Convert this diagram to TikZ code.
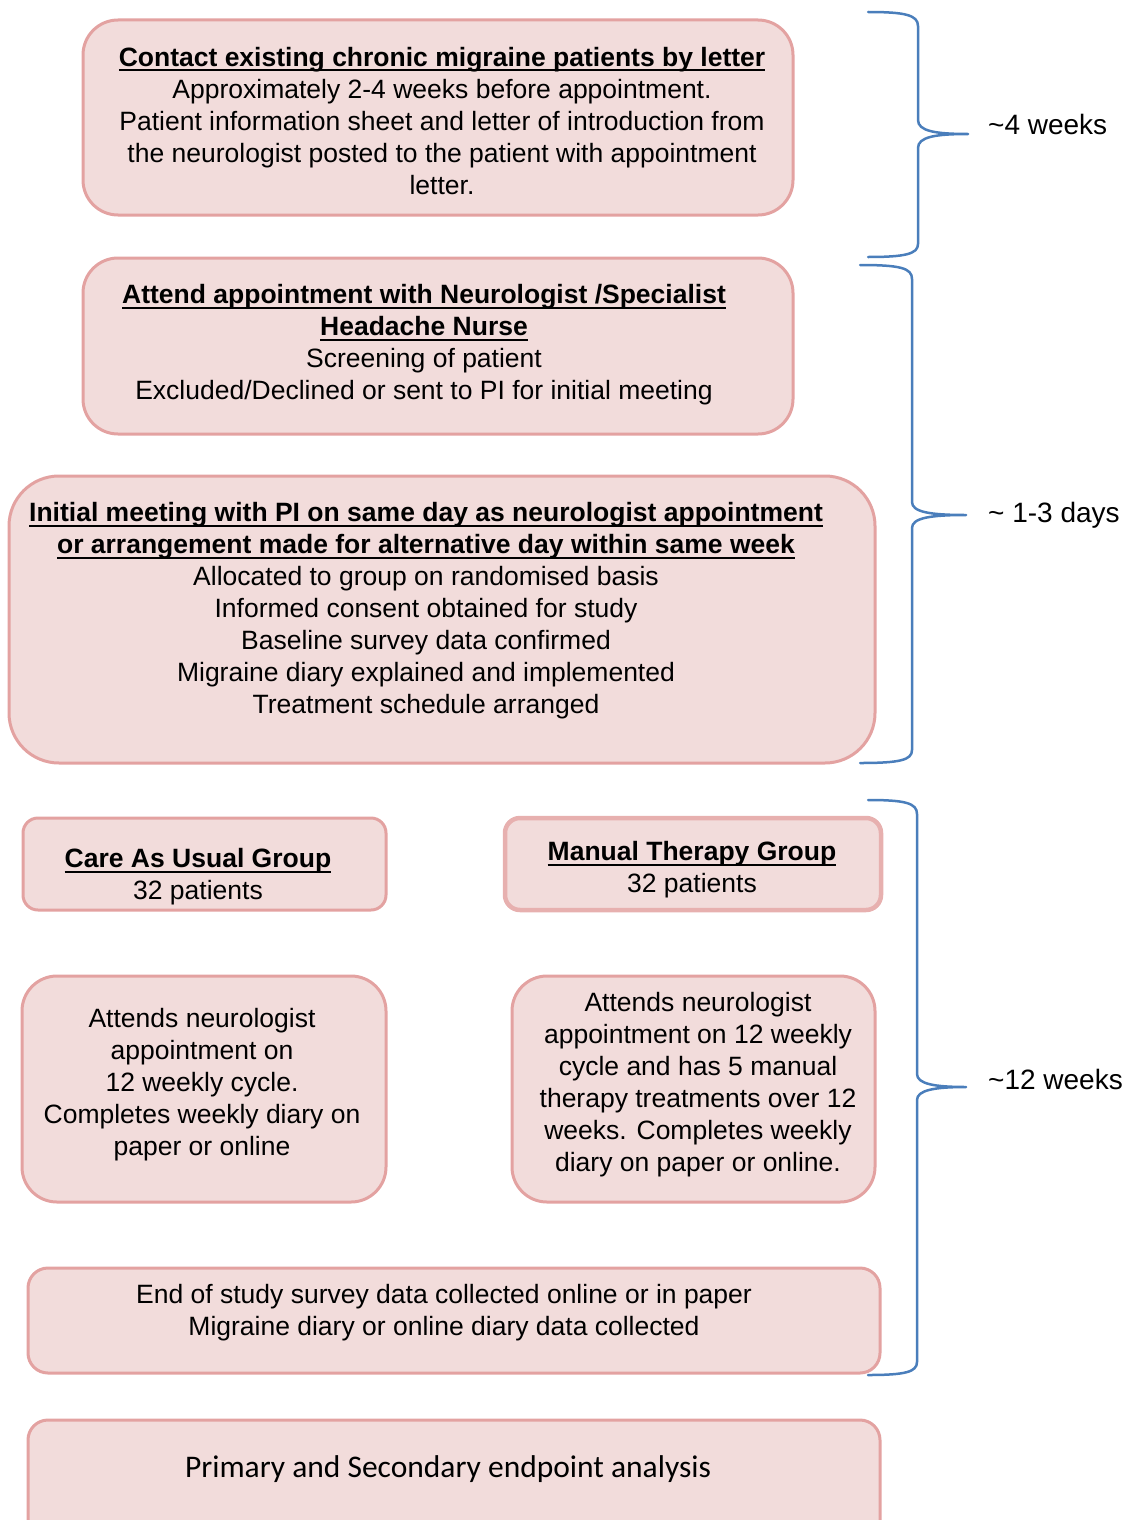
\documentclass[tikz,border=0pt]{standalone}
\usepackage{fontspec}
\setmainfont{Liberation Sans}
\newfontfamily\calib{Carlito}
\definecolor{boxfill}{HTML}{F2DCDB}
\definecolor{boxline}{HTML}{E3A2A1}
\definecolor{bracecol}{HTML}{4A7EBB}
% bold heading with a heavier underline
\newcommand{\ulhead}[1]{\setbox0\hbox{\bfseries #1}\leavevmode\rlap{\copy0}\raisebox{-5pt}{\rule{\wd0}{2pt}}}
\tikzset{
  stage/.style={draw=boxline, line width=3pt, fill=boxfill, rounded corners=#1, inner sep=0pt},
  stage/.default=30pt,
  txt/.style={align=center, inner sep=0pt, font=\fontsize{26.5}{32}\selectfont},
  span/.style={font=\fontsize{28}{32}\selectfont, anchor=west, inner sep=0pt},
  brace/.style={draw=bracecol, line width=2.5pt, line cap=round, line join=round}
}
\begin{document}
\begin{tikzpicture}[x=1pt,y=-1pt]
\useasboundingbox (0,0) rectangle (1139,1520);

% stage boxes
\path[stage=35pt] (83,20) rectangle (793,215);
\node[txt] (t1) at (442,121) {\ulhead{Contact existing chronic migraine patients by letter}\\
Approximately 2-4 weeks before appointment.\\
Patient information sheet and letter of introduction from\\
the neurologist posted to the patient with appointment\\
letter.};

\path[stage=35pt] (83,258) rectangle (793,434);
\node[txt] (t2) at (424,345) {\ulhead{Attend appointment with Neurologist /Specialist}\\
\ulhead{Headache Nurse}\\
Screening of patient\\
Excluded/Declined or sent to PI for initial meeting};

\path[stage=50pt] (9,476) rectangle (875,763);
\node[txt] (t3) at (426,611) {\ulhead{Initial meeting with PI on same day as neurologist appointment}\\
\ulhead{or arrangement made for alternative day within same week}\\
Allocated to group on randomised basis\\
Informed consent obtained for study\\
Baseline survey data confirmed\\
Migraine diary explained and implemented\\
Treatment schedule arranged};

\path[stage=15pt] (23,818) rectangle (386,910);
\node[txt] (t4) at (198,877) {\ulhead{Care As Usual Group}\\32 patients};

\path[stage=15pt, line width=4.5pt, draw=boxline!85] (505,818) rectangle (881,910);
\node[txt] (t5) at (692,870) {\ulhead{Manual Therapy Group}\\32 patients};

\path[stage=35pt] (22,976) rectangle (386,1202);
\node[txt] (t6) at (202,1085) {Attends neurologist\\appointment on\\12 weekly cycle.\\Completes weekly diary on\\paper or online};

\path[stage=35pt] (512,976) rectangle (875,1202);
\node[txt] (t7) at (698,1085) {Attends neurologist\\appointment on 12 weekly\\cycle and has 5 manual\\therapy treatments over 12\\weeks. Completes weekly\\diary on paper or online.};

\path[stage=20pt] (28,1268) rectangle (880,1373);
\node[txt] (t8) at (444,1313) {End of study survey data collected online or in paper\\Migraine diary or online diary data collected};

\path[stage=20pt] (28,1420) rectangle (880,1540);
\node[txt, font=\calib\fontsize{31.5}{36}\selectfont] (t9) at (448,1469) {Primary and Secondary endpoint analysis};

% timeline braces
\draw[brace] (868,12) .. controls (905,12) and (918,15) .. (918,26) -- (918,120)
  .. controls (918,131) and (935,134) .. (968,134)
  .. controls (935,134) and (918,137) .. (918,148) -- (918,244)
  .. controls (918,254) and (905,257) .. (868,257);
\node[span] (w1) at (988,124) {\textasciitilde4 weeks};

\draw[brace] (860,265) .. controls (900,265) and (912,268) .. (912,279) -- (912,502)
  .. controls (912,512) and (930,515) .. (966,515)
  .. controls (930,515) and (912,518) .. (912,528) -- (912,750)
  .. controls (912,760) and (900,763) .. (860,763);
\node[span] (w2) at (988,515) {\textasciitilde{} 1-3 days};

\draw[brace] (868,800) .. controls (905,800) and (917,803) .. (917,814) -- (917,1074)
  .. controls (917,1084) and (935,1087) .. (966,1087)
  .. controls (935,1087) and (917,1090) .. (917,1100) -- (917,1362)
  .. controls (917,1372) and (905,1375) .. (868,1375);
\node[span] (w3) at (988,1079) {\textasciitilde12 weeks};
\end{tikzpicture}
\end{document}
